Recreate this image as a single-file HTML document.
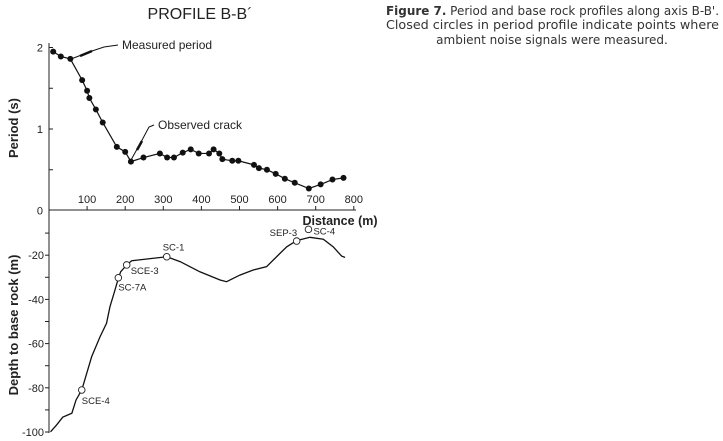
<!DOCTYPE html>
<html><head><meta charset="utf-8"><style>
html,body{margin:0;padding:0;background:#fff;width:723px;height:441px;overflow:hidden}
svg{display:block}
.ax{font-family:"Liberation Sans",Arial,sans-serif;fill:#222}
.cap{font-family:"DejaVu Sans",Verdana,sans-serif;font-size:12px;fill:#333}
</style></head><body>
<svg id="chart" width="723" height="441" viewBox="0 0 723 441" xmlns="http://www.w3.org/2000/svg">
<text class="ax" x="200" y="19" font-size="16" text-anchor="middle">PROFILE B-B´</text>
<g>
<text class="cap" x="386" y="15" textLength="333" lengthAdjust="spacingAndGlyphs"><tspan font-weight="bold">Figure 7.</tspan> Period and base rock profiles along axis B-B'.</text>
<text class="cap" x="386" y="29" textLength="333" lengthAdjust="spacingAndGlyphs">Closed circles in period profile indicate points where</text>
<text class="cap" x="552" y="44" text-anchor="middle">ambient noise signals were measured.</text>
</g>
<g id="topG"></g>
<g id="botG"></g>
</svg>
<script>
const periodDist=[11,31,56,87,100,106,123,141,178,200,215,248,291,310,328,351,372,393,420,432,447,455,481,497,538,551,572,595,619,645,682,713,744,773];
const periodVals=[1.95,1.89,1.86,1.60,1.47,1.38,1.24,1.08,0.78,0.72,0.60,0.65,0.70,0.65,0.65,0.71,0.75,0.70,0.70,0.75,0.70,0.63,0.61,0.61,0.56,0.52,0.50,0.45,0.39,0.34,0.27,0.32,0.38,0.40];
const depthDist=[4,20,36,60,71,86,112,134,151,160,171,182,188,204,217,309,344,396,449,466,501,536,571,602,624,650,685,720,746,768,777];
const depthVals=[-99.9,-96.8,-93.3,-91.5,-85.5,-81,-65.9,-56.9,-50.8,-43.3,-37,-30.5,-27.5,-24.4,-22.5,-20.7,-22.9,-27.5,-31.2,-32,-29,-26.7,-25.2,-19.9,-16.2,-13.4,-11.9,-12.8,-16.2,-20.4,-21];
const holeNames=["SCE-4","SC-7A","SCE-3","SC-1","SEP-3","SC-4"];
const holeDist=[86,182,204,309,650,681];
const holeDepth=[-81,-30.2,-24.4,-20.7,-13.6,-8.3];
const xTicks=[100,200,300,400,500,600,700,800];
const pTicks=[0,1,2];
const dTicks=[-20,-40,-60,-80,-100];

const NS="http://www.w3.org/2000/svg";
const X=d=>49+d*0.381;
const YP=v=>210.5-v*81.5;
const YD=v=>211-v*2.21;
function mk(p,tag,a){const e=document.createElementNS(NS,tag);for(const k in a)e.setAttribute(k,a[k]);p.appendChild(e);return e;}
const topG=document.getElementById('topG'),botG=document.getElementById('botG');

let e=mk(topG,'line',{x1:49,y1:43,x2:49,y2:210,stroke:'#222','stroke-width':1});


e=mk(topG,'line',{x1:49,y1:210,x2:356,y2:210,stroke:'#222','stroke-width':1});


for(let v=0.5;v<=2;v+=0.5){mk(topG,'line',{x1:49,x2:53,y1:YP(v),y2:YP(v),stroke:'#222'});}
pTicks.forEach(v=>{const t=mk(topG,'text',{x:43,y:YP(v)+4,'font-size':11,'text-anchor':'end',class:'ax'});t.textContent=v;

});
xTicks.forEach(v=>{mk(topG,'line',{x1:X(v),x2:X(v),y1:210,y2:206,stroke:'#222'});
const t=mk(topG,'text',{x:X(v),y:203,'font-size':11,'text-anchor':'middle',class:'ax'});t.textContent=v;

});
e=mk(topG,'text',{x:340,y:225,'font-size':12.5,'font-weight':'bold','text-anchor':'middle',class:'ax'});e.textContent='Distance (m)';


e=mk(topG,'text',{x:0,y:0,'font-size':13,'font-weight':'bold','text-anchor':'middle',class:'ax',transform:'translate(18,128) rotate(-90)'});e.textContent='Period (s)';


e=mk(topG,'polyline',{points:periodDist.map((d,i)=>X(d)+','+YP(periodVals[i])).join(' '),fill:'none',stroke:'#111','stroke-width':1.2});


periodDist.forEach((d,i)=>{const c=mk(topG,'circle',{cx:X(d),cy:YP(periodVals[i]),r:3,fill:'#111'});

});
mk(topG,'polyline',{points:'71,59 92,51 104,47 118,45',fill:'none',stroke:'#111','stroke-width':1});
mk(topG,'line',{x1:80,y1:56,x2:92,y2:51,stroke:'#111','stroke-width':2.5});
e=mk(topG,'text',{x:122,y:49,'font-size':12,class:'ax'});e.textContent='Measured period';


mk(topG,'polyline',{points:'131,160 141,142 149,127 154,125',fill:'none',stroke:'#111','stroke-width':1});
mk(topG,'line',{x1:137,y1:150,x2:142,y2:141,stroke:'#111','stroke-width':2.5});
e=mk(topG,'text',{x:158,y:129,'font-size':12,class:'ax'});e.textContent='Observed crack';



e=mk(botG,'line',{x1:49,y1:210,x2:49,y2:433,stroke:'#222'});


for(let v=-10;v>=-100;v-=10){mk(botG,'line',{x1:45,x2:49,y1:YD(v),y2:YD(v),stroke:'#222'});}
dTicks.forEach(v=>{const t=mk(botG,'text',{x:44,y:YD(v)+4,'font-size':11,'text-anchor':'end',class:'ax'});t.textContent=v;

});
e=mk(botG,'text',{x:0,y:0,'font-size':13,'font-weight':'bold','text-anchor':'middle',class:'ax',transform:'translate(18,325) rotate(-90)'});e.textContent='Depth to base rock (m)';


e=mk(botG,'polyline',{points:depthDist.map((d,i)=>X(d)+','+YD(depthVals[i])).join(' '),fill:'none',stroke:'#111','stroke-width':1.3});


const lblOff=[[0,14],[0,13],[4,9],[-4,-6],[-27,-5],[5,5]];
holeNames.forEach((n,i)=>{const cx=X(holeDist[i]),cy=YD(holeDepth[i]);
const c=mk(botG,'circle',{cx:cx,cy:cy,r:3.3,fill:'#fff',stroke:'#222','stroke-width':0.9});


const t=mk(botG,'text',{x:cx+lblOff[i][0],y:cy+lblOff[i][1],'font-size':9.5,class:'ax'});t.textContent=n;

});
</script>
</body></html>
